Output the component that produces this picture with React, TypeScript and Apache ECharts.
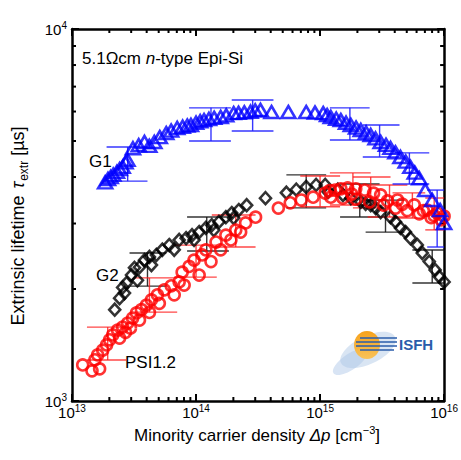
import React, { useEffect, useRef } from 'react';
import * as echarts from 'echarts';

const FONT = '"Liberation Sans", Arial, Helvetica, sans-serif';

// Axis ranges / ticks
const X_MIN = 1e13;
const X_MAX = 1e16;
const Y_MIN = 1e3;
const Y_MAX = 1e4;
const xDecades = [1e13, 1e14, 1e15];
const yDecades = [1e3];
const minorMultipliers = [2, 3, 4, 5, 6, 7, 8, 9];

// G1 (blue triangles): [density cm^-3, lifetime µs]
const g1Points: number[][] = [
  [1.85e13, 3870], [1.95e13, 3950], [2.05e13, 4000], [2.15e13, 4060], [2.3e13, 4130],
  [2.42e13, 4200], [2.56e13, 4260], [2.7e13, 4380], [2.8e13, 4450], [3.1e13, 4780],
  [3.45e13, 4870], [3.84e13, 4970], [4.2e13, 4850], [4.61e13, 4970], [5.1e13, 5120],
  [5.75e13, 5250], [6.3e13, 5330], [7.05e13, 5420], [7.8e13, 5460], [8.5e13, 5500],
  [9.1e13, 5520], [1.0e14, 5600], [1.08e14, 5650], [1.16e14, 5690], [1.27e14, 5730],
  [1.4e14, 5770], [1.58e14, 5800], [1.75e14, 5860], [2.01e14, 5940], [2.2e14, 5950],
  [2.45e14, 5970], [2.75e14, 5990], [3.0e14, 6040], [3.31e14, 6060], [4.06e14, 5980],
  [5.55e14, 5980], [7.73e14, 5980], [9.1e14, 5960], [1.06e15, 5940], [1.14e15, 5870],
  [1.22e15, 5800], [1.35e15, 5740], [1.47e15, 5690], [1.62e15, 5600], [1.77e15, 5520],
  [1.95e15, 5430], [2.13e15, 5350], [2.35e15, 5270], [2.56e15, 5190], [2.8e15, 5080],
  [3.08e15, 4970], [3.4e15, 4880], [3.7e15, 4790], [4.05e15, 4660], [4.45e15, 4530],
  [4.9e15, 4400], [5.35e15, 4260], [5.8e15, 4110], [6.31e15, 3970], [7.05e15, 3690],
  [8.02e15, 3470], [9.29e15, 3260], [1.0e16, 3010],
];

// G2 (black diamonds)
const g2Points: number[][] = [
  [2.21e13, 1760], [2.42e13, 1890], [2.56e13, 2020], [2.65e13, 1950], [2.75e13, 2075],
  [3.02e13, 2180], [3.19e13, 2280], [3.37e13, 2110], [3.5e13, 2290], [3.84e13, 2390],
  [4.21e13, 2440], [4.37e13, 2320], [4.79e13, 2470], [5.35e13, 2550], [6.08e13, 2625],
  [6.67e13, 2550], [7.31e13, 2710], [8.32e13, 2740], [9.29e13, 2790], [9.64e13, 2710],
  [1.06e14, 2845], [1.2e14, 2920], [1.34e14, 2970], [1.39e14, 2880], [1.53e14, 3030],
  [1.74e14, 3120], [1.94e14, 3200], [2.01e14, 3105], [2.21e14, 3260], [2.56e14, 3360],
  [3.63e14, 3510], [5.35e14, 3630], [6.43e14, 3700], [7.73e14, 3760], [9.29e14, 3810],
  [1.1e15, 3810], [1.16e15, 3650], [1.39e15, 3700], [1.53e15, 3580], [1.77e15, 3510],
  [2.13e15, 3430], [2.33e15, 3390], [2.56e15, 3360], [2.81e15, 3300], [3.08e15, 3220],
  [3.7e15, 3120], [4.06e15, 3030], [4.45e15, 2920], [4.88e15, 2845], [5.35e15, 2740],
  [6.08e15, 2625], [6.67e15, 2500], [7.59e15, 2370], [8.47e15, 2250], [9.12e15, 2160],
  [1.0e16, 2090],
];

// PSI1.2 (red circles)
const psiPoints: number[][] = [
  [1.22e13, 1250], [1.45e13, 1205], [1.53e13, 1290], [1.61e13, 1330], [1.67e13, 1220],
  [1.77e13, 1370], [1.9e13, 1415], [2.01e13, 1460], [2.13e13, 1505], [2.33e13, 1550],
  [2.42e13, 1476], [2.56e13, 1580], [2.7e13, 1530], [2.81e13, 1620], [2.96e13, 1570],
  [3.08e13, 1670], [3.31e13, 1725], [3.5e13, 1650], [3.63e13, 1760], [3.98e13, 1810],
  [4.21e13, 1730], [4.37e13, 1870], [4.88e13, 1930], [5.06e13, 1830], [5.55e13, 1990],
  [6.31e13, 2040], [6.67e13, 1930], [7.31e13, 2090], [7.73e13, 2220], [8.02e13, 2050],
  [8.8e13, 2300], [9.64e13, 2390], [1.06e14, 2180], [1.12e14, 2470], [1.2e14, 2550],
  [1.32e14, 2370], [1.45e14, 2675], [1.58e14, 2550], [1.74e14, 2790], [1.91e14, 2710],
  [2.09e14, 2880], [2.29e14, 2845], [2.51e14, 3010], [3.02e14, 3120], [4.61e14, 3300],
  [5.75e14, 3410], [7.05e14, 3470], [8.79e14, 3530], [1.1e15, 3620], [1.2e15, 3680],
  [1.22e15, 3530], [1.32e15, 3690], [1.47e15, 3720], [1.53e15, 3510], [1.67e15, 3740],
  [1.8e15, 3600], [1.94e15, 3720], [1.94e15, 3490], [2.29e15, 3690], [2.51e15, 3430],
  [2.7e15, 3620], [3.08e15, 3580], [3.25e15, 3360], [3.5e15, 3450], [4.06e15, 3300],
  [4.21e15, 3470], [4.6e15, 3380], [5.06e15, 3250], [5.75e15, 3365], [6.31e15, 3185],
  [6.8e15, 3250], [7.31e15, 3260], [7.87e15, 3110], [8.3e15, 3150], [8.79e15, 3200],
  [9.46e15, 3070], [1.0e16, 3140],
];

// Error bars: [x, yLow, yHigh, xLow, xHigh]
const g1Errors: number[][] = [
  [2.81e13, 3900, 4817, 1.9e13, 4.06e13],
  [1.32e14, 5000, 6138, 8.79e13, 1.91e14],
  [2.86e14, 5321, 6446, 1.94e14, 4.21e14],
  [1.74e15, 5030, 6138, 1.2e15, 2.51e15],
  [3.02e15, 4530, 5520, 2.21e15, 4.37e15],
  [5.25e15, 3830, 4645, 3.84e15, 7.59e15],
  [8.79e15, 2594, 3690, 7.31e15, 1.0e16],
];
const g2Errors: number[][] = [
  [4.06e13, 2036, 2500, 2.91e13, 5.75e13],
  [1.22e14, 2530, 3124, 8.47e13, 1.84e14],
  [7.73e14, 3305, 4055, 5.35e14, 1.12e15],
  [2.09e15, 3124, 3830, 1.45e15, 3.02e15],
  [3.37e15, 2845, 3468, 2.33e15, 4.79e15],
  [8.02e15, 2075, 2546, 5.55e15, 1.0e16],
];
const psiErrors: number[][] = [
  [1.94e13, 1289, 1580, 1.32e13, 2.75e13],
  [4.21e13, 1733, 2143, 3.19e13, 7.05e13],
  [1.0e14, 2153, 2625, 6.67e13, 1.47e14],
  [2.09e14, 2594, 3162, 1.34e14, 3.02e14],
  [1.0e15, 3327, 4027, 6.92e14, 1.45e15],
  [1.84e15, 3364, 4104, 1.2e15, 2.56e15],
  [2.56e15, 3305, 4000, 1.84e15, 3.7e15],
  [3.63e15, 3124, 3808, 2.42e15, 5.06e15],
  [5.55e15, 3105, 3626, 3.84e15, 7.05e15],
  [8.32e15, 2884, 3513, 7.05e15, 1.0e16],
];

function errorBarSeries(data: number[][], color: string, opacity: number) {
  return {
    type: 'custom',
    data,
    silent: true,
    clip: false,
    encode: { x: [0, 3, 4], y: [1, 2] },
    renderItem: (_p: any, api: any) => {
      const x = api.value(0), lo = api.value(1), hi = api.value(2);
      const xl = api.value(3), xh = api.value(4);
      const top = api.coord([x, hi]);
      const bot = api.coord([x, lo]);
      const l = api.coord([xl, hi])[0];
      const r = api.coord([xh, hi])[0];
      const style = { stroke: color, lineWidth: 1.4, opacity };
      return {
        type: 'group',
        children: [
          { type: 'line', shape: { x1: top[0], y1: top[1], x2: bot[0], y2: bot[1] }, style },
          { type: 'line', shape: { x1: l, y1: top[1], x2: r, y2: top[1] }, style },
          { type: 'line', shape: { x1: l, y1: bot[1], x2: r, y2: bot[1] }, style },
        ],
      };
    },
  };
}

const supLabel = (v: number) => `{b|10}{s|${Math.round(Math.log10(v))}}`;
const labelRich = {
  b: { fontSize: 15, fontFamily: FONT, color: '#000', lineHeight: 18, verticalAlign: 'middle' },
  s: { fontSize: 10, fontFamily: FONT, color: '#000', verticalAlign: 'top' },
};

export default function App() {
  const ref = useRef<HTMLDivElement>(null);
  useEffect(() => {
    if (!ref.current) return;
    const chart = echarts.init(ref.current, undefined, { renderer: 'svg' });
    const xMinor = xDecades.flatMap((d) => minorMultipliers.map((m) => m * d));
    const yMinor = yDecades.flatMap((d) => minorMultipliers.map((m) => m * d));
    const axisLine = { show: true, lineStyle: { color: '#000', width: 2.5 } };
    const axisTick = { show: true, inside: true, length: 7, lineStyle: { color: '#000', width: 2 } };
    const tickStyle = { stroke: '#000', lineWidth: 2 };
    const MINOR = 4;

    chart.setOption({
      animation: false,
      backgroundColor: '#fff',
      grid: { left: 72, right: 14, top: 29, bottom: 59 },
      xAxis: [
        {
          type: 'log', logBase: 10, min: X_MIN, max: X_MAX, position: 'bottom',
          axisLine, axisTick, splitLine: { show: false },
          axisLabel: { formatter: supLabel, rich: labelRich, margin: 2, showMinLabel: true, showMaxLabel: true },
        },
        {
          type: 'log', logBase: 10, min: X_MIN, max: X_MAX, position: 'top',
          axisLine, axisTick, splitLine: { show: false }, axisLabel: { show: false },
        },
      ],
      yAxis: [
        {
          type: 'log', logBase: 10, min: Y_MIN, max: Y_MAX, position: 'left',
          axisLine, axisTick, splitLine: { show: false },
          axisLabel: { formatter: supLabel, rich: labelRich, margin: 5, showMinLabel: true, showMaxLabel: true },
        },
        {
          type: 'log', logBase: 10, min: Y_MIN, max: Y_MAX, position: 'right',
          axisLine, axisTick, splitLine: { show: false }, axisLabel: { show: false },
        },
      ],
      series: [
        {
          type: 'custom', silent: true, clip: false,
          data: xMinor.map((v) => [v, Y_MIN]),
          renderItem: (_p: any, api: any) => {
            const b = api.coord([api.value(0), Y_MIN]);
            const t = api.coord([api.value(0), Y_MAX]);
            return {
              type: 'group',
              children: [
                { type: 'line', shape: { x1: b[0], y1: b[1], x2: b[0], y2: b[1] - MINOR }, style: tickStyle },
                { type: 'line', shape: { x1: t[0], y1: t[1], x2: t[0], y2: t[1] + MINOR }, style: tickStyle },
              ],
            };
          },
        },
        {
          type: 'custom', silent: true, clip: false,
          data: yMinor.map((v) => [X_MIN, v]),
          renderItem: (_p: any, api: any) => {
            const l = api.coord([X_MIN, api.value(1)]);
            const r = api.coord([X_MAX, api.value(1)]);
            return {
              type: 'group',
              children: [
                { type: 'line', shape: { x1: l[0], y1: l[1], x2: l[0] + MINOR, y2: l[1] }, style: tickStyle },
                { type: 'line', shape: { x1: r[0], y1: r[1], x2: r[0] - MINOR, y2: r[1] }, style: tickStyle },
              ],
            };
          },
        },
        errorBarSeries(g2Errors, '#111', 0.85),
        {
          type: 'scatter', name: 'G2', data: g2Points, symbol: 'diamond', symbolSize: [11, 12],
          itemStyle: { color: 'rgba(0,0,0,0)', borderColor: '#000', borderWidth: 2.6 },
        },
        errorBarSeries(psiErrors, '#ff1a1a', 0.8),
        {
          type: 'scatter', name: 'PSI1.2', data: psiPoints, symbol: 'circle', symbolSize: 11,
          itemStyle: { color: 'rgba(0,0,0,0)', borderColor: '#ff0000', borderWidth: 2.6 },
        },
        errorBarSeries(g1Errors, '#2020ff', 0.9),
        {
          type: 'scatter', name: 'G1', data: g1Points, symbol: 'triangle', symbolSize: [14, 12],
          itemStyle: { color: 'rgba(0,0,0,0)', borderColor: '#0000ff', borderWidth: 2.6 },
        },
      ],
      graphic: [
        // ISFH logo (approximation)
        {
          type: 'ellipse', shape: { cx: 0, cy: 0, rx: 30, ry: 14 }, x: 368, y: 350, rotation: 0.45,
          style: { fill: '#b9cfea', opacity: 0.55 }, silent: true,
        },
        {
          type: 'ellipse', shape: { cx: 0, cy: 0, rx: 20, ry: 8 }, x: 350, y: 362, rotation: 0.6,
          style: { fill: '#a9c4e6', opacity: 0.45 }, silent: true,
        },
        {
          type: 'ellipse', shape: { cx: 367, cy: 345, rx: 13, ry: 14 },
          style: {
            fill: new echarts.graphic.LinearGradient(0, 0, 0, 1, [
              { offset: 0, color: '#f7a21b' },
              { offset: 1, color: '#f8c25a' },
            ]),
          },
          silent: true,
        },
        { type: 'line', shape: { x1: 360, y1: 338, x2: 397, y2: 338 }, style: { stroke: '#2a5cab', lineWidth: 1.6 }, silent: true },
        { type: 'line', shape: { x1: 356, y1: 342, x2: 397, y2: 342 }, style: { stroke: '#2a5cab', lineWidth: 1.6 }, silent: true },
        { type: 'line', shape: { x1: 356, y1: 346, x2: 397, y2: 346 }, style: { stroke: '#2a5cab', lineWidth: 1.6 }, silent: true },
        { type: 'line', shape: { x1: 360, y1: 350, x2: 394, y2: 350 }, style: { stroke: '#2a5cab', lineWidth: 1.6 }, silent: true },
        {
          type: 'text', x: 399, y: 344, silent: true,
          style: { text: 'ISFH', font: `bold 15px ${FONT}`, fill: '#2a5cab', align: 'left', verticalAlign: 'middle' },
        },
        // Annotations
        {
          type: 'text', x: 82, y: 58, silent: true,
          style: {
            text: '{n|5.1Ωcm }{i|n}{n|-type Epi-Si}', align: 'left', verticalAlign: 'middle',
            rich: {
              n: { fontSize: 17, fontFamily: FONT, color: '#000' },
              i: { fontSize: 17, fontFamily: FONT, fontStyle: 'italic', color: '#000' },
            },
          },
        },
        {
          type: 'text', x: 89, y: 161, silent: true,
          style: { text: 'G1', font: `17px ${FONT}`, fill: '#000', align: 'left', verticalAlign: 'middle' },
        },
        {
          type: 'text', x: 96, y: 275, silent: true,
          style: { text: 'G2', font: `17px ${FONT}`, fill: '#000', align: 'left', verticalAlign: 'middle' },
        },
        {
          type: 'text', x: 125, y: 362, silent: true,
          style: { text: 'PSI1.2', font: `17px ${FONT}`, fill: '#000', align: 'left', verticalAlign: 'middle' },
        },
        // Axis titles
        {
          type: 'text', x: 257, y: 435, silent: true,
          style: {
            text: '{n|Minority carrier density }{i|Δp}{n| [cm}{s|−3}{n|]}', align: 'center', verticalAlign: 'middle',
            rich: {
              n: { fontSize: 17, fontFamily: FONT, color: '#000', lineHeight: 22, verticalAlign: 'middle' },
              i: { fontSize: 17, fontFamily: FONT, fontStyle: 'italic', color: '#000', lineHeight: 22, verticalAlign: 'middle' },
              s: { fontSize: 11, fontFamily: FONT, color: '#000', verticalAlign: 'top' },
            },
          },
        },
        {
          type: 'text', x: 18, y: 226, rotation: Math.PI / 2, silent: true,
          style: {
            text: '{n|Extrinsic lifetime }{i|τ}{s|extr}{n| [µs]}', align: 'center', verticalAlign: 'middle',
            rich: {
              n: { fontSize: 18, fontFamily: FONT, color: '#000', lineHeight: 24, verticalAlign: 'middle' },
              i: { fontSize: 18, fontFamily: FONT, fontStyle: 'italic', color: '#000', lineHeight: 24, verticalAlign: 'middle', padding: [0, 1, 0, 2] },
              s: { fontSize: 12, fontFamily: FONT, color: '#000', verticalAlign: 'bottom' },
            },
          },
        },
      ],
    });
    return () => chart.dispose();
  }, []);
  return (
    <div
      ref={ref}
      style={{ position: 'fixed', left: 0, top: 0, width: 461, height: 460, background: '#fff' }}
    />
  );
}
